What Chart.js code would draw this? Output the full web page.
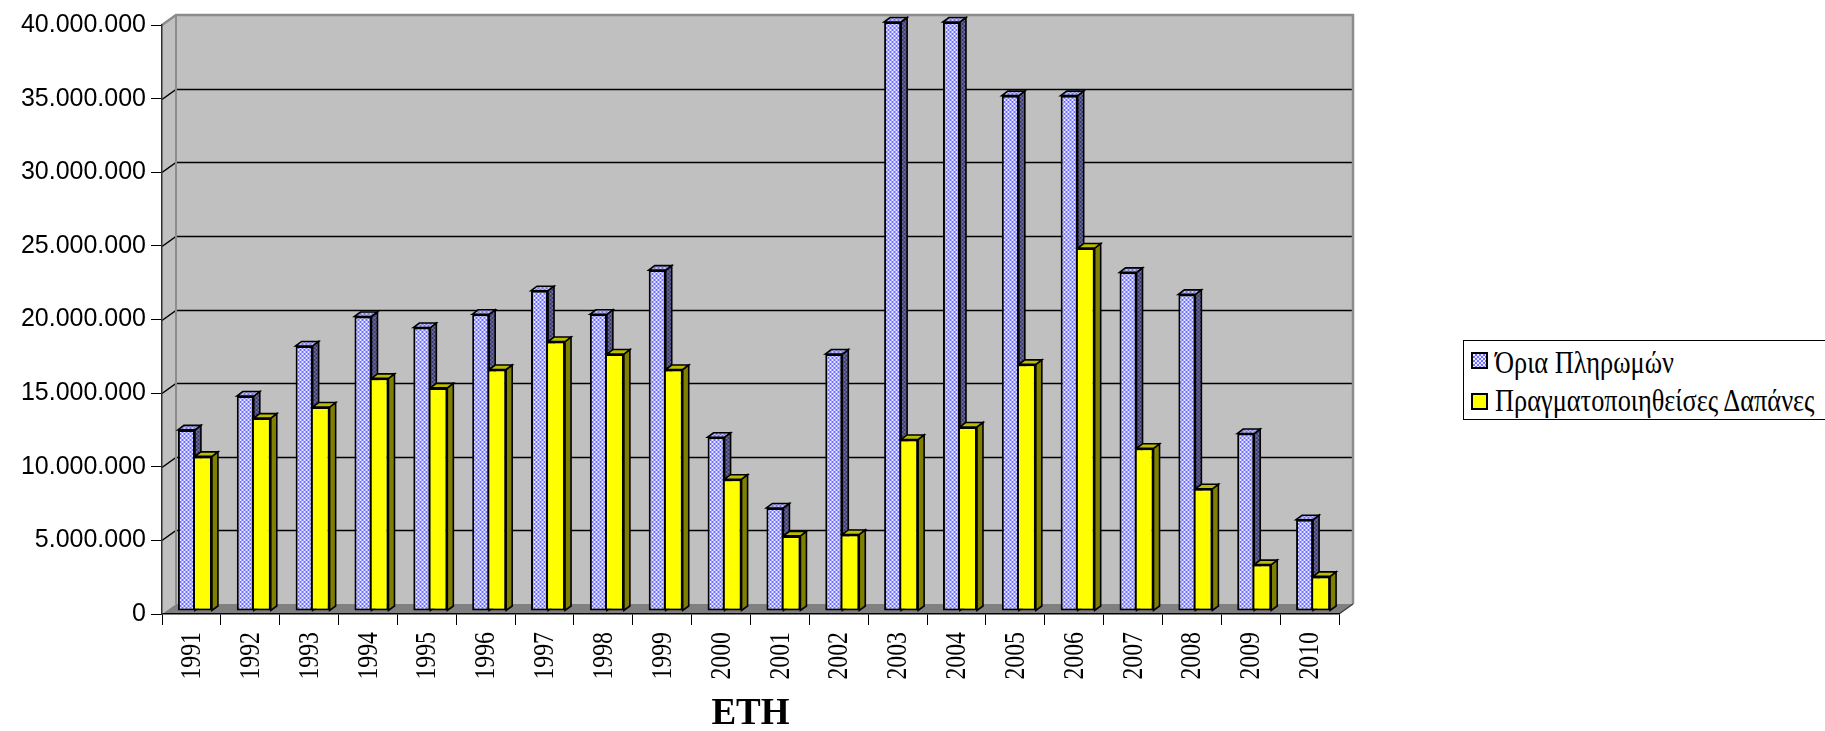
<!DOCTYPE html>
<html>
<head>
<meta charset="utf-8">
<script src="https://cdn.jsdelivr.net/npm/chart.js@4.4.1/dist/chart.umd.min.js"></script>
<style>
html,body{margin:0;padding:0;background:#fff;overflow:hidden;width:1825px;height:731px}
#wrap{position:relative;width:1825px;height:731px;overflow:hidden}
#c{position:absolute;left:0;top:0}
#legend{position:absolute;left:1463px;top:340px;width:420px;height:80px;border:1px solid #000;background:#fff;box-sizing:border-box}
.sw{position:absolute;left:7px;width:17px;height:17px;border:2px solid #000;box-sizing:border-box}
.lt{position:absolute;left:31px;font-family:'Liberation Serif','Times New Roman',serif;font-size:31px;line-height:31px;white-space:nowrap;transform:scaleX(0.85);transform-origin:0 0;color:#000}
#xtitle{position:absolute;left:162px;top:693px;width:1177px;text-align:center;font-family:'Liberation Serif','Times New Roman',serif;font-weight:bold;font-size:37px;line-height:37px;color:#000}
</style>
</head>
<body>
<div id="wrap">
<canvas id="c" width="1825" height="731"></canvas>
<div id="legend">
  <div class="sw" id="sw0" style="top:11px;background:repeating-conic-gradient(#7070ff 0% 25%, #e8e8ff 0% 50%) 0 0/4px 4px"></div>
  <div class="lt" id="lt0" style="top:6px"></div>
  <div class="sw" id="sw1" style="top:52px;background:#ffff00"></div>
  <div class="lt" id="lt1" style="top:44px"></div>
</div>
<div id="xtitle"></div>
</div>
<script>
// ---- data ----
const years = ['1991','1992','1993','1994','1995','1996','1997','1998','1999','2000',
               '2001','2002','2003','2004','2005','2006','2007','2008','2009','2010'];
const paymentLimits = [12300000, 14600000, 18000000, 20000000, 19250000, 20150000, 21750000, 20150000, 23150000, 11800000,
                       7000000, 17450000, 40000000, 40000000, 35000000, 35000000, 23000000, 21500000, 12050000, 6200000];
const actualSpending = [10500000, 13100000, 13850000, 15800000, 15150000, 16400000, 18300000, 17450000, 16400000, 8950000,
                        5100000, 5200000, 11650000, 12500000, 16750000, 24650000, 11050000, 8300000, 3150000, 2350000];
const seriesNames = ['Όρια Πληρωμών', 'Πραγματοποιηθείσες Δαπάνες'];
const axisTitle = 'ΕΤΗ';
const yMin = 0, yMax = 40000000, yStep = 5000000;

document.getElementById('lt0').textContent = seriesNames[0];
document.getElementById('lt1').textContent = seriesNames[1];
document.getElementById('xtitle').textContent = axisTitle;

// ---- styles ----
const DEPTH_X = 14, DEPTH_Y = 10;         // 3D wall depth
const BAR_SHIFT_X = 3.5, BAR_SHIFT_Y = 3; // bars sit a little behind front plane
const FACE_X = 6, FACE_Y = 4.5;           // bar depth
const XLABEL_FONT = "29px 'Liberation Serif', 'Times New Roman', serif";
const XLABEL_SQUEEZE = 0.82, XTICK_LEN = 11, XLABEL_PAD = 7;

function makePattern(c1, c2, cell) {
  const cv = document.createElement('canvas');
  cv.width = cv.height = cell * 2;
  const g = cv.getContext('2d');
  g.fillStyle = c2; g.fillRect(0, 0, cell * 2, cell * 2);
  g.fillStyle = c1; g.fillRect(0, 0, cell, cell); g.fillRect(cell, cell, cell, cell);
  return g.createPattern(cv, 'repeat');
}
const bluePattern = makePattern('#7070ff', '#e8e8ff', 2);
const blueSide = makePattern('#36367c', '#707088', 2);
const blueTop = makePattern('#7878d4', '#c4c4f0', 2);

function fmt(v) { return String(v).replace(/\B(?=(\d{3})+(?!\d))/g, '.'); }

function poly(ctx, pts, fill, stroke, lw) {
  ctx.beginPath();
  ctx.moveTo(pts[0][0], pts[0][1]);
  for (let i = 1; i < pts.length; i++) ctx.lineTo(pts[i][0], pts[i][1]);
  ctx.closePath();
  if (fill) { ctx.fillStyle = fill; ctx.fill(); }
  if (stroke) { ctx.strokeStyle = stroke; ctx.lineWidth = lw; ctx.stroke(); }
}

const scene3d = {
  id: 'scene3d',
  beforeDraw(chart) {
    const ctx = chart.ctx, a = chart.chartArea, y = chart.scales.y;
    const L = a.left, R = a.right;
    const T = y.getPixelForValue(yMax), B = y.getPixelForValue(yMin);
    ctx.save();
    ctx.fillStyle = '#c0c0c0';
    ctx.fillRect(L + DEPTH_X, T - DEPTH_Y, R - L, B - T);
    poly(ctx, [[L, T], [L + DEPTH_X, T - DEPTH_Y], [L + DEPTH_X, B - DEPTH_Y], [L, B]], '#c0c0c0');
    ctx.strokeStyle = '#000'; ctx.lineWidth = 1.5;
    y.ticks.forEach(t => {
      if (t.value <= yMin || t.value >= yMax) return;
      const py = Math.round(y.getPixelForValue(t.value)) + 0.5;
      ctx.beginPath();
      ctx.moveTo(L, py);
      ctx.lineTo(L + DEPTH_X, py - DEPTH_Y);
      ctx.lineTo(R + DEPTH_X, py - DEPTH_Y);
      ctx.stroke();
    });
    poly(ctx, [[L, B], [R, B], [R + DEPTH_X, B - DEPTH_Y], [L + DEPTH_X, B - DEPTH_Y]], '#808080');
    ctx.strokeStyle = '#8c8c8c'; ctx.lineWidth = 2.5;
    ctx.beginPath();
    ctx.moveTo(L, T);
    ctx.lineTo(L + DEPTH_X, T - DEPTH_Y);
    ctx.lineTo(R + DEPTH_X, T - DEPTH_Y);
    ctx.lineTo(R + DEPTH_X, B - DEPTH_Y);
    ctx.stroke();
    ctx.lineWidth = 2;
    ctx.beginPath();
    ctx.moveTo(L + DEPTH_X, T - DEPTH_Y);
    ctx.lineTo(L + DEPTH_X, B - DEPTH_Y);
    ctx.stroke();
    ctx.strokeStyle = '#404040'; ctx.lineWidth = 1.5;
    ctx.beginPath();
    ctx.moveTo(R, B);
    ctx.lineTo(R + DEPTH_X, B - DEPTH_Y);
    ctx.stroke();
    ctx.restore();
  },
  beforeDatasetsDraw(chart) {
    const ctx = chart.ctx;
    ctx.save();
    ctx.translate(BAR_SHIFT_X, -BAR_SHIFT_Y);
    ctx.lineJoin = 'miter';
    chart.getSortedVisibleDatasetMetas().forEach(meta => {
      const ds = chart.data.datasets[meta.index];
      meta.data.forEach(el => {
        const p = el.getProps(['x', 'y', 'base', 'width'], true);
        const l = p.x - p.width / 2, r = p.x + p.width / 2;
        el.draw(ctx);
        poly(ctx, [[r, p.y], [r + FACE_X, p.y - FACE_Y], [r + FACE_X, p.base - FACE_Y], [r, p.base]], ds.sideColor, '#000', 1.6);
        poly(ctx, [[l, p.y], [l + FACE_X, p.y - FACE_Y], [r + FACE_X, p.y - FACE_Y], [r, p.y]], ds.topColor, '#000', 1.6);
      });
    });
    ctx.restore();
    return false;
  },
  afterDraw(chart) {
    // category labels, rotated and slightly condensed like the original serif face
    const ctx = chart.ctx, xs = chart.scales.x, a = chart.chartArea;
    ctx.save();
    ctx.font = XLABEL_FONT;
    ctx.fillStyle = '#000';
    ctx.textAlign = 'right';
    ctx.textBaseline = 'middle';
    chart.data.labels.forEach((lab, i) => {
      const px = xs.getPixelForValue(i);
      ctx.save();
      ctx.translate(px + 1, a.bottom + XTICK_LEN + XLABEL_PAD);
      ctx.rotate(-Math.PI / 2);
      ctx.scale(XLABEL_SQUEEZE, 1);
      ctx.fillText(lab, 0, 0);
      ctx.restore();
    });
    ctx.restore();
  }
};

new Chart(document.getElementById('c'), {
  type: 'bar',
  data: {
    labels: years,
    datasets: [
      { label: seriesNames[0], data: paymentLimits, backgroundColor: bluePattern, borderColor: '#000',
        borderWidth: 2, borderSkipped: false, sideColor: blueSide, topColor: blueTop },
      { label: seriesNames[1], data: actualSpending, backgroundColor: '#ffff00', borderColor: '#000',
        borderWidth: { top: 2, right: 2, bottom: 2, left: 0 }, borderSkipped: false, sideColor: '#808000', topColor: '#bdbd00' }
    ]
  },
  options: {
    responsive: false,
    animation: false,
    events: [],
    layout: { padding: { left: 0, top: 25, right: 486, bottom: 0 } },
    datasets: { bar: { categoryPercentage: 0.578, barPercentage: 1 } },
    plugins: { legend: { display: false }, tooltip: { enabled: false }, title: { display: false } },
    scales: {
      x: {
        offset: true,
        grid: { offset: true, drawOnChartArea: false, drawTicks: true, tickLength: XTICK_LEN, color: '#000', lineWidth: 1 },
        border: { display: true, color: '#000', width: 1.5 },
        ticks: { display: false, autoSkip: false },
        afterFit(s) { s.height = 117; }
      },
      y: {
        min: yMin, max: yMax,
        grid: { drawOnChartArea: false, drawTicks: true, tickLength: 11, color: '#000', lineWidth: 1 },
        border: { display: true, color: '#303030', width: 1.5 },
        ticks: { stepSize: yStep, padding: 5, color: '#000', callback: v => fmt(v),
                 font: { family: "'Liberation Sans', Arial, sans-serif", size: 25 } },
        afterFit(s) { s.width = 162; }
      }
    }
  },
  plugins: [scene3d]
});
</script>
</body>
</html>
